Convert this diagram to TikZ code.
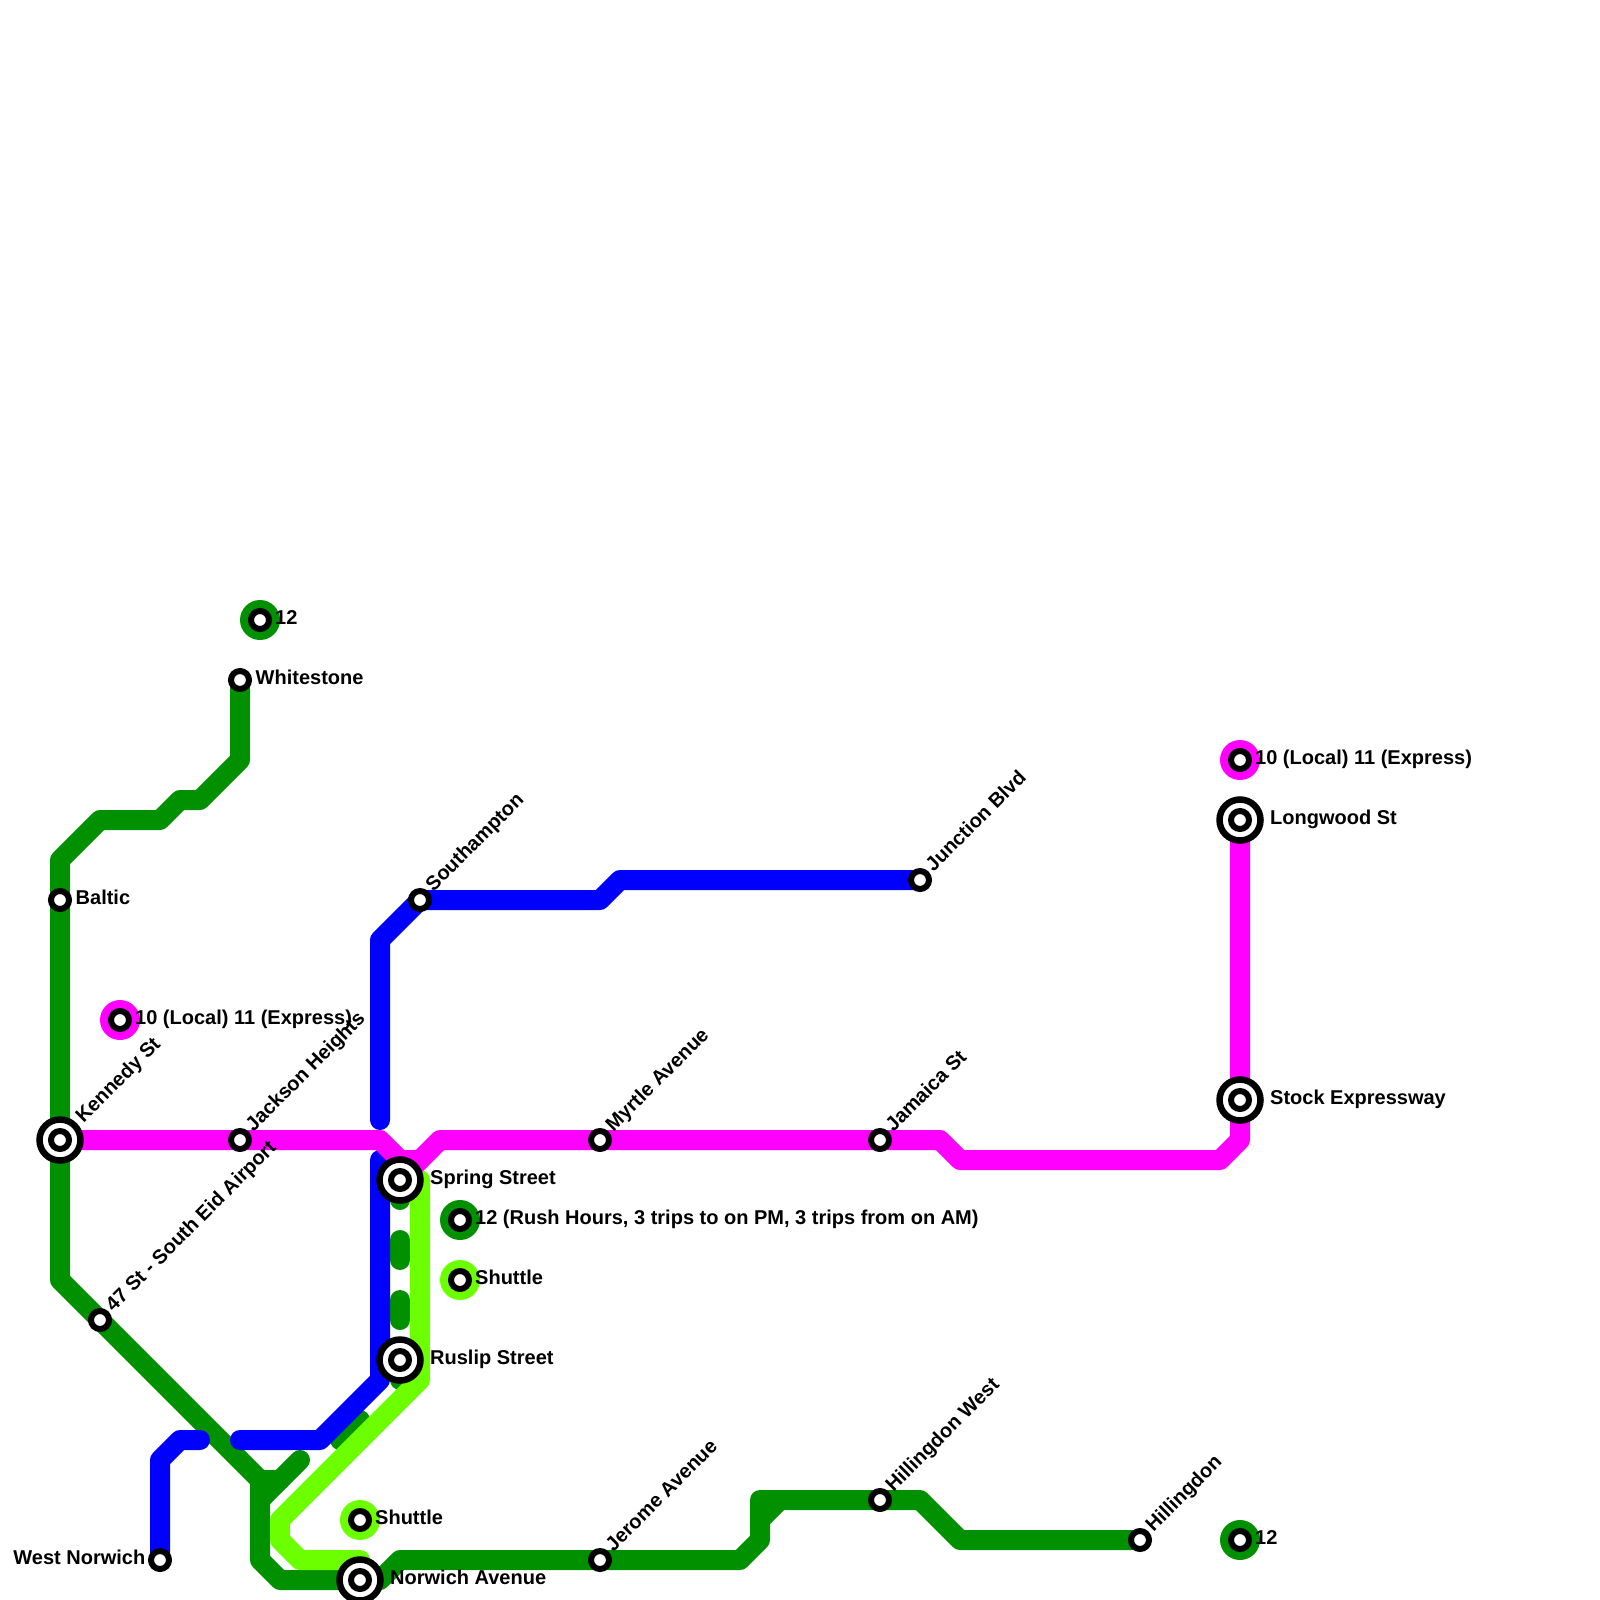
\documentclass[tikz,border=0pt]{standalone}
\usepackage{fontspec}
\setmainfont{Liberation Sans}
\usetikzlibrary{backgrounds}
\definecolor{greenline}{RGB}{0,144,0}
\definecolor{limeline}{RGB}{108,255,0}
\definecolor{blueline}{RGB}{0,0,255}
\definecolor{pinkline}{RGB}{255,0,255}

\begin{document}
\begin{tikzpicture}[x=1pt,y=-1pt,
        metro/.style={line width=20pt,line cap=round,line join=round},
        stop/.style={draw,circle,fill=white,line width=6pt,minimum size=18pt,inner sep=0pt},
        ring/.style={draw,circle,fill=white,line width=6.5pt,minimum size=41pt,inner sep=0pt},
        keydisc/.style={circle,minimum size=40pt,inner sep=0pt},
        stoptext/.style={font=\fontsize{20}{24}\selectfont\bfseries,inner sep=0pt,anchor=base west},
        righttext/.style={stoptext,xshift=15.5pt,yshift=-4.8pt},
        ringtext/.style={stoptext,xshift=30pt,yshift=-4.8pt},
        keytext/.style={stoptext,xshift=15pt,yshift=-4.8pt},
        lefttext/.style={stoptext,anchor=base east,xshift=-14.5pt,yshift=-4.8pt},
        diagtext/.style={stoptext,xshift=13.5pt,yshift=7.5pt,rotate=45},
        ringdiagtext/.style={stoptext,xshift=23.5pt,yshift=16.5pt,rotate=45}]
      \useasboundingbox (0,0) rectangle (1600,1600);

      % ring stations
      \node[ring] (kennedyring) at (60,1140) {};
      \node[ring] (springring) at (400,1180) {};
      \node[ring] (ruslipring) at (400,1360) {};
      \node[ring] (norwichring) at (360,1580) {};
      \node[ring] (longwoodring) at (1240,820) {};
      \node[ring] (stockring) at (1240,1100) {};

      % key discs
      \node[keydisc,fill=greenline] (greenkeya) at (260,620) {};
      \node[keydisc,fill=pinkline] (pinkkeya) at (120,1020) {};
      \node[keydisc,fill=greenline] (greenkeyb) at (460,1220) {};
      \node[keydisc,fill=limeline] (limekeya) at (460,1280) {};
      \node[keydisc,fill=limeline] (limekeyb) at (360,1520) {};
      \node[keydisc,fill=pinkline] (pinkkeyb) at (1240,760) {};
      \node[keydisc,fill=greenline] (greenkeyc) at (1240,1540) {};

      % stops
      \node[stop] (whitestone) at (240,680) {};
      \node[stop] (baltic) at (60,900) {};
      \node[stop] (kennedy) at (kennedyring) {};
      \node[stop] (jackson) at (240,1140) {};
      \node[stop] (airport) at (100,1320) {};
      \node[stop] (westnorwich) at (160,1560) {};
      \node[stop] (norwich) at (norwichring) {};
      \node[stop] (spring) at (springring) {};
      \node[stop] (ruslip) at (ruslipring) {};
      \node[stop] (southampton) at (420,900) {};
      \node[stop] (junction) at (920,880) {};
      \node[stop] (myrtle) at (600,1140) {};
      \node[stop] (jamaica) at (880,1140) {};
      \node[stop] (jerome) at (600,1560) {};
      \node[stop] (hillwest) at (880,1500) {};
      \node[stop] (hillingdon) at (1140,1540) {};
      \node[stop] (longwood) at (longwoodring) {};
      \node[stop] (stock) at (stockring) {};
      \node[stop] (greenstopa) at (greenkeya) {};
      \node[stop] (pinkstopa) at (pinkkeya) {};
      \node[stop] (greenstopb) at (greenkeyb) {};
      \node[stop] (limestopa) at (limekeya) {};
      \node[stop] (limestopb) at (limekeyb) {};
      \node[stop] (pinkstopb) at (pinkkeyb) {};
      \node[stop] (greenstopc) at (greenkeyc) {};

      % labels
      \node[righttext] (whitestonetext) at (whitestone) {Whitestone};
      \node[righttext] (baltictext) at (baltic) {Baltic};
      \node[ringdiagtext] (kennedytext) at (kennedy) {Kennedy St};
      \node[diagtext] (jacksontext) at (jackson) {Jackson Heights};
      \node[diagtext] (airporttext) at (airport) {47 St - South Eid Airport};
      \node[lefttext] (westnorwichtext) at (westnorwich) {West Norwich};
      \node[ringtext] (norwichtext) at (norwich) {Norwich Avenue};
      \node[ringtext] (springtext) at (spring) {Spring Street};
      \node[ringtext] (rusliptext) at (ruslip) {Ruslip Street};
      \node[diagtext] (southamptontext) at (southampton) {Southampton};
      \node[diagtext] (junctiontext) at (junction) {Junction Blvd};
      \node[diagtext] (myrtletext) at (myrtle) {Myrtle Avenue};
      \node[diagtext] (jamaicatext) at (jamaica) {Jamaica St};
      \node[diagtext] (jerometext) at (jerome) {Jerome Avenue};
      \node[diagtext] (hillwesttext) at (hillwest) {Hillingdon West};
      \node[diagtext] (hillingdontext) at (hillingdon) {Hillingdon};
      \node[ringtext] (longwoodtext) at (longwood) {Longwood St};
      \node[ringtext] (stocktext) at (stock) {Stock Expressway};
      \node[keytext] (greentexta) at (greenstopa) {12};
      \node[keytext] (pinktexta) at (pinkstopa) {10 (Local) 11 (Express)};
      \node[keytext] (greentextb) at (greenstopb) {12 (Rush Hours, 3 trips to on PM, 3 trips from on AM)};
      \node[keytext] (limetexta) at (limestopa) {Shuttle};
      \node[keytext] (limetextb) at (limestopb) {Shuttle};
      \node[keytext] (pinktextb) at (pinkstopb) {10 (Local) 11 (Express)};
      \node[keytext] (greentextc) at (greenstopc) {12};

      \begin{scope}[on background layer]
        % green
        \draw[metro,greenline] (whitestone.center) -- (240,760) -- (200,800) -- (180,800)
          -- (160,820) -- (100,820) -- (60,860) -- (baltic.center) -- (kennedy.center)
          -- (60,1280) -- (airport.center) -- (260,1480) -- (260,1560) -- (280,1580)
          -- (norwich.center) -- (380,1580) -- (400,1560) -- (jerome.center) -- (740,1560)
          -- (760,1540) -- (760,1520) -- (780,1500) -- (hillwest.center) -- (920,1500)
          -- (960,1540) -- (hillingdon.center);
        \draw[metro,greenline] (260,1480) -- (280,1480);
        \draw[metro,greenline] (260,1500) -- (300,1460);
        \draw[metro,greenline] (760,1520) -- (760,1500) -- (780,1500);
        \draw[metro,greenline,dash pattern=on 20pt off 40pt] (spring.center) -- (ruslip.center) -- (400,1380);
        \draw[metro,greenline] (360,1420) -- (340,1440);
        % blue
        \draw[metro,blueline] (westnorwich.center) -- (160,1460) -- (180,1440) -- (200,1440);
        \draw[metro,blueline] (240,1440) -- (320,1440) -- (380,1380) -- (380,1160);
        \draw[metro,blueline] (380,1120) -- (380,940) -- (southampton.center) -- (600,900)
          -- (620,880) -- (junction.center);
        % lime
        \draw[metro,limeline] (420,1180) -- (420,1380) -- (280,1520) -- (280,1540)
          -- (300,1560) -- (360,1560);
        % pink
        \draw[metro,pinkline] (kennedy.center) -- (jackson.center) -- (380,1140) -- (400,1160)
          -- (420,1160);
        \draw[metro,pinkline] (spring.center) -- (440,1140) -- (myrtle.center) -- (jamaica.center)
          -- (940,1140) -- (960,1160) -- (1220,1160) -- (1240,1140) -- (stock.center)
          -- (longwood.center);
      \end{scope}
    \end{tikzpicture}
\end{document}
